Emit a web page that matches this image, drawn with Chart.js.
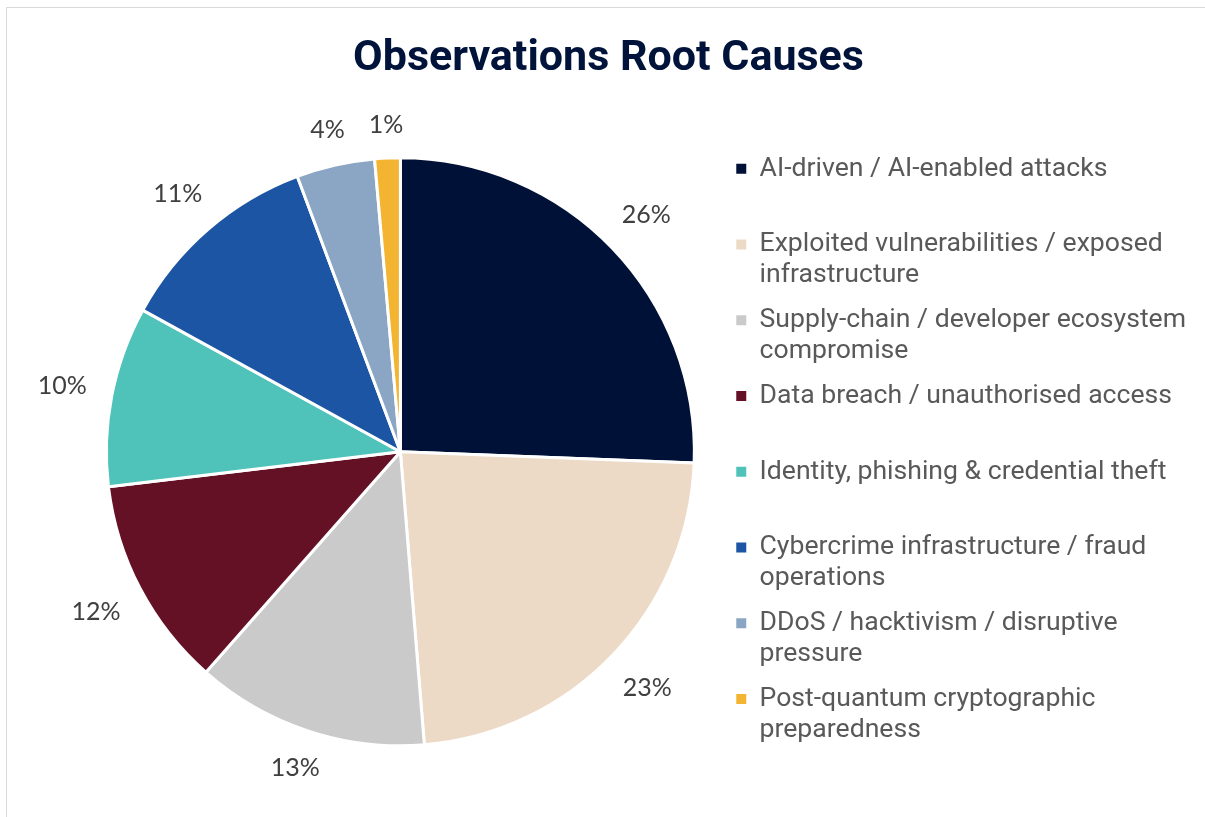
<!DOCTYPE html>
<html>
<head>
<meta charset="utf-8">
<script src="https://cdn.jsdelivr.net/npm/chart.js@4/dist/chart.umd.min.js"></script>
<style>
  html, body { margin: 0; padding: 0; background: #fff; overflow: hidden; }
  #frame { position: absolute; left: 6px; top: 7px; width: 1400px; height: 1000px;
           border-left: 1px solid #d9d9d9; border-top: 1px solid #d9d9d9; pointer-events: none; }
  canvas { position: absolute; left: 0; top: 0; }
</style>
</head>
<body>
<canvas id="pieCanvas" width="1205" height="817"></canvas>
<div id="frame"></div>
<script>
var categories = [
    'AI-driven / AI-enabled attacks',
    'Exploited vulnerabilities / exposed\ninfrastructure',
    'Supply-chain / developer ecosystem\ncompromise',
    'Data breach / unauthorised access',
    'Identity, phishing & credential theft',
    'Cybercrime infrastructure / fraud\noperations',
    'DDoS / hacktivism / disruptive\npressure',
    'Post-quantum cryptographic\npreparedness'
];
var shares = [25.6, 23.1, 12.8, 11.6, 9.9, 11.3, 4.3, 1.4];
var colors = ['#001137', '#EDDAC6', '#CACACA', '#641126', '#4FC3B9', '#1B55A3', '#8BA6C4', '#F2B431'];

// percent labels outside each slice, box edge kept a fixed gap from the rim
var outsideLabels = {
    id: 'outsideLabels',
    afterDatasetsDraw: function(chart) {
        var ctx = chart.ctx;
        var meta = chart.getDatasetMeta(0);
        ctx.save();
        ctx.font = '25px Lato';
        ctx.fillStyle = '#404040';
        ctx.textAlign = 'center';
        ctx.textBaseline = 'middle';
        meta.data.forEach(function(arc, i) {
            var p = arc.getProps(['x', 'y', 'startAngle', 'endAngle', 'outerRadius'], true);
            var txt = Math.round(shares[i]) + '%';
            var mid = (p.startAngle + p.endAngle) / 2;
            var cx = Math.cos(mid), cy = Math.sin(mid);
            var halfW = ctx.measureText(txt).width / 2, halfH = 7;
            var r = p.outerRadius + 25 + Math.abs(cx) * halfW + Math.abs(cy) * halfH;
            ctx.fillText(txt, p.x + cx * r, p.y + cy * r);
        });
        ctx.restore();
    }
};

// Excel puts the pie a bit further right than chart.js would
var nudgePie = {
    id: 'nudgePie',
    afterLayout: function(chart) {
        var a = chart.chartArea;
        a.left += 57;
        a.width = a.right - a.left;
    }
};

var baseLabels = Chart.overrides.doughnut.plugins.legend.labels.generateLabels;

var ctx = document.getElementById('pieCanvas').getContext('2d');
var myPie = new Chart(ctx, {
    type: 'pie',
    data: {
        labels: categories,
        datasets: [{
            data: shares,
            backgroundColor: colors,
            borderColor: '#ffffff',
            borderWidth: 3,
            radius: 294
        }]
    },
    options: {
        responsive: false,
        devicePixelRatio: 1,
        animation: false,
        events: [],
        layout: { padding: { left: 21, right: 9, top: 0, bottom: 8 } },
        plugins: {
            title: {
                display: true,
                text: 'Observations Root Causes',
                color: '#00133A',
                font: { family: 'Roboto', size: 43, weight: 'bold', lineHeight: 1.2 },
                padding: { top: 33, bottom: 10 }
            },
            legend: {
                position: 'right',
                fullSize: false,
                labels: {
                    color: '#595959',
                    font: { family: 'Roboto', size: 26.6, lineHeight: 1.17 },
                    boxWidth: 10,
                    boxHeight: 10,
                    padding: 13.5,
                    generateLabels: function(chart) {
                        return baseLabels(chart).map(function(item) {
                            var lines = String(categories[item.index]).split('\n');
                            if (lines.length < 2) lines.push('');
                            item.text = lines;
                            item.lineWidth = 0;
                            item.strokeStyle = 'rgba(0,0,0,0)';
                            return item;
                        });
                    }
                }
            },
            tooltip: { enabled: false }
        }
    },
    plugins: [outsideLabels, nudgePie]
});
</script>
</body>
</html>
